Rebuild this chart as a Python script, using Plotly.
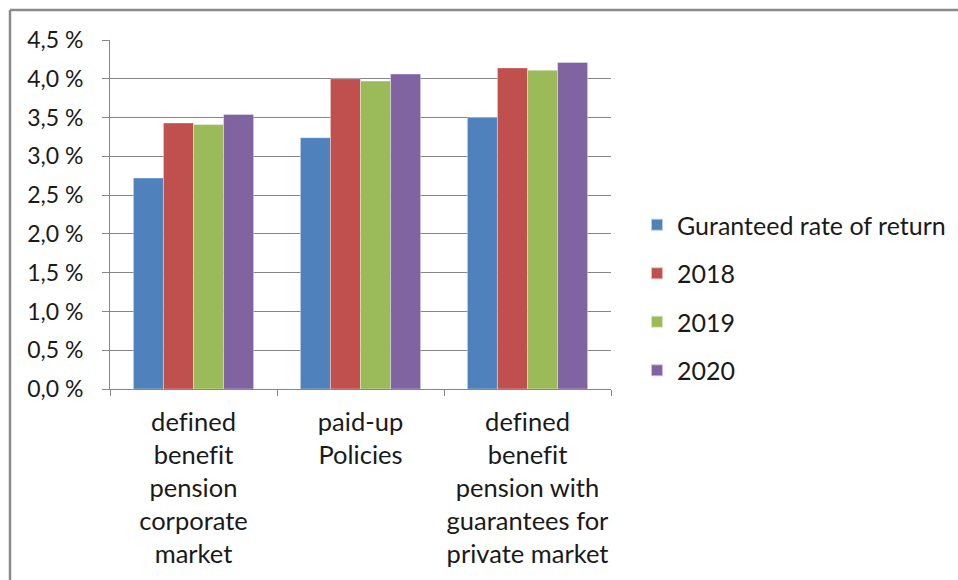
import plotly.graph_objects as go

ZWNJ = "\u200c"
categories = [
    f"de{ZWNJ}f{ZWNJ}ined<br>bene{ZWNJ}f{ZWNJ}it<br>pension<br>corporate<br>market",
    "paid-up<br>Policies",
    f"de{ZWNJ}f{ZWNJ}ined<br>bene{ZWNJ}f{ZWNJ}it<br>pension with<br>guarantees for<br>private market",
]
series_names = ["Guranteed rate of return", "2018", "2019", "2020"]
guaranteed = [2.72, 3.24, 3.50]
y2018 = [3.43, 4.00, 4.14]
y2019 = [3.41, 3.97, 4.11]
y2020 = [3.54, 4.06, 4.21]
series_values = [guaranteed, y2018, y2019, y2020]
colors = ["#4F81BD", "#C0504D", "#9BBB59", "#8064A2"]

tick_vals = [0.0, 0.5, 1.0, 1.5, 2.0, 2.5, 3.0, 3.5, 4.0, 4.5]
tick_text = ["0,0 %", "0,5 %", "1,0 %", "1,5 %", "2,0 %", "2,5 %", "3,0 %", "3,5 %", "4,0 %", "4,5 %"]

FONT = "Lato"
fig = go.Figure()
for i, (name, vals, col) in enumerate(zip(series_names, series_values, colors)):
    fig.add_trace(go.Bar(
        x=categories, y=vals, name=name,
        marker=dict(color=col, line=dict(color="rgba(255,255,255,0.6)", width=0.6)),
        legendgroup=f"g{i}",
    ))

# plot area geometry: x 110..611, y 40..389 px
L, R, T, B = 110, 958 - 611, 40, 580 - 389
pw, ph = 958 - L - R, 580 - T - B

def px(x):
    return (x - L) / pw

def py(y):
    return (580 - B - y) / ph

fig.update_layout(
    width=958, height=580,
    margin=dict(l=L, r=R, t=T, b=B, autoexpand=False),
    paper_bgcolor="white", plot_bgcolor="white",
    barmode="group", bargap=0.28, bargroupgap=0,
    font=dict(family=FONT, color="#1a1a1a"),
    legend=dict(
        x=px(637), xanchor="left", y=py(297.5), yanchor="middle",
        font=dict(size=25, family=FONT, color="#1a1a1a"),
        traceorder="grouped", tracegroupgap=13,
        itemsizing="constant", bgcolor="rgba(0,0,0,0)",
    ),
    xaxis=dict(
        showgrid=False, showline=True, linecolor="#868686", linewidth=1,
        ticks="outside", tickson="boundaries", ticklen=6, tickcolor="#868686",
        tickfont=dict(size=25.5, family=FONT, color="#1a1a1a"),
        tickangle=0, ticklabelstandoff=10,
    ),
    yaxis=dict(
        range=[0, 4.5], tickvals=tick_vals, ticktext=tick_text,
        showgrid=True, gridcolor="#868686", gridwidth=1,
        showline=True, linecolor="#868686", linewidth=1,
        ticks="outside", ticklen=7, tickcolor="#868686",
        tickfont=dict(size=23, family=FONT, color="#1a1a1a"),
        ticklabelstandoff=14, zeroline=False,
    ),
    shapes=[
        dict(type="line", xref="paper", yref="paper",
             x0=px(10), y0=py(10), x1=px(960), y1=py(10),
             line=dict(color="#8a8a8a", width=2.5)),
        dict(type="line", xref="paper", yref="paper",
             x0=px(10), y0=py(10), x1=px(10), y1=py(582),
             line=dict(color="#8a8a8a", width=2.5)),
    ],
)

fig.write_html("out.html")
